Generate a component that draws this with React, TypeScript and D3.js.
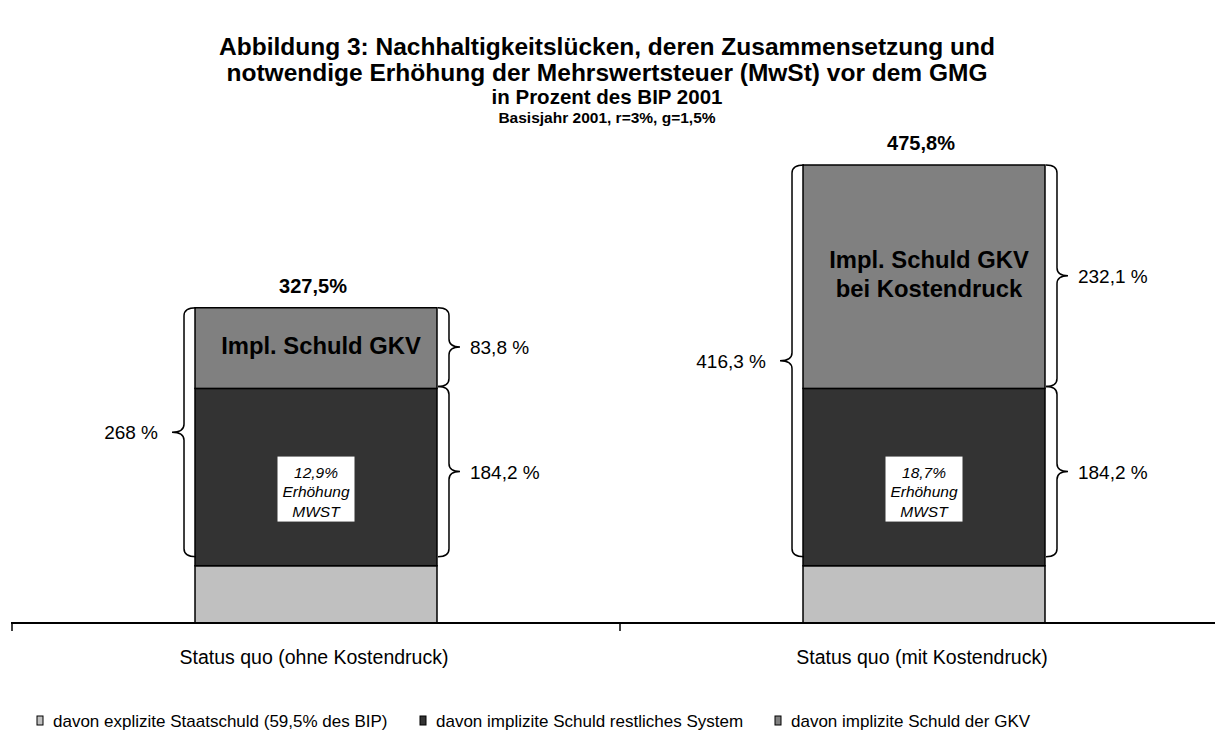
import React from 'react';
import * as d3 from 'd3';

const categories = ['Status quo (ohne Kostendruck)', 'Status quo (mit Kostendruck)'];
const seriesNames = [
  'davon explizite Staatschuld (59,5% des BIP)',
  'davon implizite Schuld restliches System',
  'davon implizite Schuld der GKV',
];
const explizit = [59.5, 59.5];
const implizitRest = [184.2, 184.2];
const implizitGKV = [83.8, 232.1];

const totalLabels = ['327,5%', '475,8%'];
const implicitLabels = ['268 %', '416,3 %'];
const gkvLabels = ['83,8 %', '232,1 %'];
const restLabels = ['184,2 %', '184,2 %'];
const mwstLabels = ['12,9%', '18,7%'];
const gkvText = [['Impl. Schuld GKV'], ['Impl. Schuld GKV', 'bei Kostendruck']];

const colors = ['#c0c0c0', '#333333', '#808080'];
const legendX = [37, 420, 775];

const W = 1215;
const H = 731;
const FONT = '"Liberation Sans", Arial, Helvetica, sans-serif';

// curly brace, ends at xe, spine halfway, tip at xt
function brace(xe: number, xt: number, y0: number, y1: number) {
  const xv = (xe + xt) / 2;
  const ym = (y0 + y1) / 2;
  const r = 8;
  return `M${xe},${y0} Q${xv},${y0} ${xv},${y0 + r} L${xv},${ym - r} Q${xv},${ym} ${xt},${ym} ` +
    `Q${xv},${ym} ${xv},${ym + r} L${xv},${y1 - r} Q${xv},${y1} ${xe},${y1}`;
}

const App: React.FC = () => {
  const rows = categories.map((c, i) => ({ cat: c, a: explizit[i], b: implizitRest[i], c2: implizitGKV[i] }));
  const stack = d3.stack<any>().keys(['a', 'b', 'c2'])(rows);

  const x = d3.scaleBand().domain(categories).range([12, 1228]);
  const y = d3.scaleLinear().domain([0, 475.8]).range([623, 165]);
  const barW = x.bandwidth() * 0.398;
  const bx = (c: string) => (x(c) as number) + x.bandwidth() / 2 - barW / 2;
  const cx = (c: string) => (x(c) as number) + x.bandwidth() / 2;

  return (
    <div style={{ position: 'absolute', left: 0, top: 0 }}>
      <svg width={W} height={H} style={{ display: 'block', fontFamily: FONT }}>
        <rect width={W} height={H} fill="#fff" />
        <g textAnchor="middle" fontWeight="bold" fill="#000">
          <text x={607} y={55} fontSize={24.5}>Abbildung 3: Nachhaltigkeitslücken, deren Zusammensetzung und</text>
          <text x={607} y={81} fontSize={24.5}>notwendige Erhöhung der Mehrswertsteuer (MwSt) vor dem GMG</text>
          <text x={607} y={104} fontSize={20.5}>in Prozent des BIP 2001</text>
          <text x={607} y={123} fontSize={15.5}>Basisjahr 2001, r=3%, g=1,5%</text>
        </g>

        {stack.map((s, si) => (
          <g key={si} fill={colors[si]} stroke="#000" strokeWidth={1.5}>
            {s.map((d, i) => (
              <rect key={i} x={bx(categories[i])} y={y(d[1])} width={barW} height={y(d[0]) - y(d[1])} />
            ))}
          </g>
        ))}

        {categories.map((c, i) => {
          const left = bx(c);
          const right = left + barW;
          const yTop = y(stack[2][i][1]);
          const yMid = y(stack[1][i][1]);
          const yBot = y(stack[0][i][1]) - 9;
          const midDark = (y(stack[1][i][0]) + yMid) / 2;
          const midGkv = (yTop + yMid) / 2;
          const lines = gkvText[i];
          const boxW = 77;
          const boxH = 65;
          const boxX = cx(c) - boxW / 2;
          const boxY = midDark + 12 - boxH / 2;
          return (
            <g key={c}>
              <text x={cx(c) - 3} y={yTop - 15} textAnchor="middle" fontWeight="bold" fontSize={20}>{totalLabels[i]}</text>
              {lines.map((l, li) => (
                <text key={li} x={cx(c) + 5} y={midGkv - 3 + 8.5 + (li - (lines.length - 1) / 2) * 29}
                  textAnchor="middle" fontWeight="bold" fontSize={23.8} fill="#000">{l}</text>
              ))}
              <rect x={boxX} y={boxY} width={boxW} height={boxH} fill="#fff" />
              {[mwstLabels[i], 'Erhöhung', 'MWST'].map((t, ti) => (
                <text key={ti} x={boxX + boxW / 2} y={boxY + 21 + ti * 19.5} textAnchor="middle"
                  fontStyle="italic" fontSize={15.5}>{t}</text>
              ))}
              <g fill="none" stroke="#000" strokeWidth={1.5}>
                <path d={brace(left + 1, left - 23, yTop, yBot)} />
                <path d={brace(right + 1, right + 23, yTop, yMid - 2)} />
                <path d={brace(right + 1, right + 23, yMid - 2, yBot)} />
              </g>
              <text x={left - 23 - 14} y={(yTop + yBot) / 2 + 7} textAnchor="end" fontSize={19}>{implicitLabels[i]}</text>
              <text x={right + 33} y={(yTop + yMid - 2) / 2 + 7} fontSize={19}>{gkvLabels[i]}</text>
              <text x={right + 33} y={(yMid - 2 + yBot) / 2 + 7} fontSize={19}>{restLabels[i]}</text>
              <text x={cx(c) - 2} y={664} textAnchor="middle" fontSize={19.5}>{c}</text>
            </g>
          );
        })}

        <g stroke="#000">
          <line x1={11} x2={W} y1={y(0)} y2={y(0)} strokeWidth={2} />
          {categories.map(c => x(c) as number).map((t, i) => (
            <line key={i} x1={t} x2={t} y1={y(0)} y2={y(0) + 8} strokeWidth={1.5} />
          ))}
        </g>

        {seriesNames.map((n, i) => (
          <g key={n} transform={`translate(${legendX[i]},0)`}>
            <rect x={0} y={716} width={6} height={9} fill={colors[i]} stroke="#000" strokeWidth={1} />
            <text x={16} y={727} fontSize={17}>{n}</text>
          </g>
        ))}
      </svg>
    </div>
  );
};

export default App;
